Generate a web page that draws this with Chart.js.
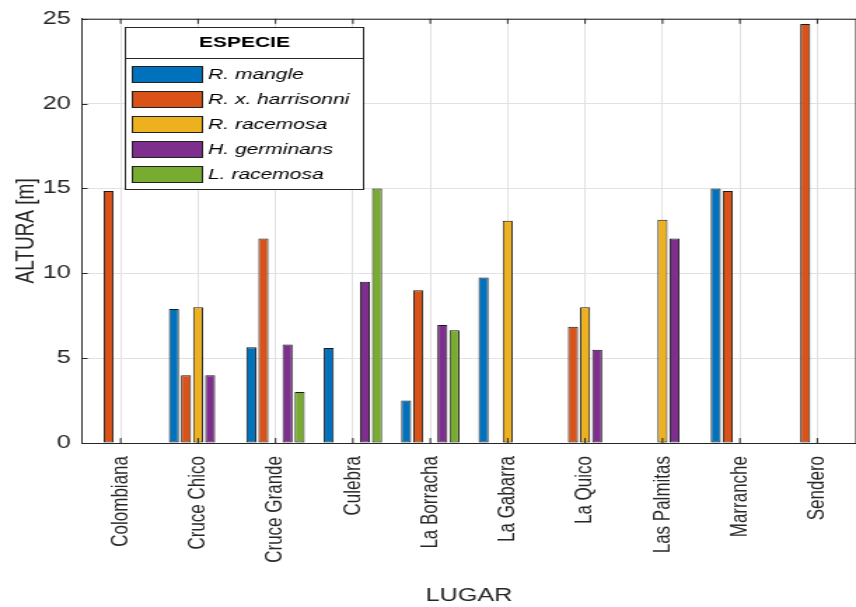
<!DOCTYPE html>
<html lang="es">
<head>
    <meta charset="UTF-8">
    <title>Altura por lugar y especie</title>
    <style>
        html, body { margin: 0; padding: 0; background: #ffffff; overflow: hidden; }
        #wrap { width: 856px; height: 607px; }
    </style>
    <script src="https://cdn.jsdelivr.net/npm/chart.js"></script>
</head>
<body>
<div id="wrap">
    <!-- the original figure is stretched sideways, so the canvas is drawn narrow and widened -->
    <canvas id="barChart" width="611" height="607" style="width:856px;height:607px;display:block"></canvas>
</div>
<script>
    // Data
    const lugares = ['Colombiana', 'Cruce Chico', 'Cruce Grande', 'Culebra', 'La Borracha',
                     'La Gabarra', 'La Quico', 'Las Palmitas', 'Marranche', 'Sendero'];
    const especies = ['R. mangle', 'R. x. harrisonni', 'R. racemosa', 'H. germinans', 'L. racemosa'];
    const rMangle      = [0, 7.9, 5.65, 5.6, 2.5, 9.75, 0, 0, 15.0, 0];
    const rHarrisonni  = [14.85, 4.0, 12.05, 0, 9.0, 0, 6.85, 0, 14.85, 24.7];
    const rRacemosa    = [0, 8.0, 0, 0, 0, 13.1, 8.0, 13.15, 0, 0];
    const hGerminans   = [0, 4.0, 5.8, 9.5, 6.95, 0, 5.5, 12.05, 0, 0];
    const lRacemosa    = [0, 0, 3.0, 15.0, 6.65, 0, 0, 0, 0, 0];
    const yTicks = [0, 5, 10, 15, 20, 25];

    const series = [rMangle, rHarrisonni, rRacemosa, hGerminans, lRacemosa];
    const colores = ['#0072BD', '#D95319', '#EDB120', '#7E2F8E', '#77AC30'];
    const axisColor = '#262626';
    const fontFam = '"Liberation Sans", Arial, sans-serif';

    // Legend drawn inside the plot, MATLAB style
    const legendInside = {
        id: 'legendInside',
        afterDraw(chart) {
            const ctx = chart.ctx;
            const x = 89.5, y = 27, w = 170, h = 162;
            ctx.save();
            ctx.fillStyle = '#ffffff';
            ctx.fillRect(x, y, w, h);
            ctx.strokeStyle = axisColor;
            ctx.lineWidth = 1;
            ctx.strokeRect(x, y + 0.5, w, h);
            ctx.beginPath();
            ctx.moveTo(x, y + 31.5);
            ctx.lineTo(x + w, y + 31.5);
            ctx.stroke();
            ctx.fillStyle = '#000000';
            ctx.font = 'bold 15px ' + fontFam;
            ctx.textAlign = 'center';
            ctx.textBaseline = 'middle';
            ctx.fillText('ESPECIE', x + w / 2, y + 16);
            ctx.font = 'italic 15px ' + fontFam;
            ctx.textAlign = 'left';
            chart.data.datasets.forEach((ds, i) => {
                const cy = y + 47 + i * 25;
                ctx.fillStyle = ds.backgroundColor;
                ctx.fillRect(x + 5, cy - 8, 50, 17);
                ctx.strokeStyle = '#222222';
                ctx.strokeRect(x + 5, cy - 7.5, 50, 16);
                ctx.fillStyle = '#000000';
                ctx.fillText(ds.label, x + 59, cy + 1);
            });
            ctx.restore();
        }
    };

    // Box around the plot area plus inward tick marks
    const plotBox = {
        id: 'plotBox',
        afterDatasetsDraw(chart) {
            const a = chart.chartArea, ctx = chart.ctx;
            const xs = chart.scales.x, ys = chart.scales.y;
            ctx.save();
            ctx.strokeStyle = axisColor;
            ctx.lineWidth = 1;
            ctx.strokeRect(a.left, a.top + 0.5, a.right - a.left, a.bottom - a.top);
            ctx.beginPath();
            lugares.forEach((l, i) => {
                const px = xs.getPixelForValue(i);
                ctx.moveTo(px, a.bottom); ctx.lineTo(px, a.bottom - 5);
                ctx.moveTo(px, a.top); ctx.lineTo(px, a.top + 5);
            });
            yTicks.forEach(v => {
                const py = Math.round(ys.getPixelForValue(v)) + 0.5;
                ctx.moveTo(a.left, py); ctx.lineTo(a.left + 4, py);
            });
            ctx.stroke();
            ctx.restore();
        }
    };

    const ctxBar = document.getElementById('barChart').getContext('2d');
    const barChart = new Chart(ctxBar, {
        type: 'bar',
        data: {
            labels: lugares,
            datasets: especies.map((e, i) => ({
                label: e,
                data: series[i],
                backgroundColor: colores[i],
                borderColor: '#1a1a1a',
                borderWidth: 1,
                borderSkipped: false,
                categoryPercentage: 0.78,
                barPercentage: 0.83
            }))
        },
        options: {
            responsive: false,
            animation: false,
            devicePixelRatio: 1,
            layout: { padding: { left: 0, right: 0, top: 8, bottom: 0 } },
            plugins: {
                legend: { display: false },
                tooltip: { enabled: false }
            },
            scales: {
                x: {
                    grid: { offset: false, color: '#e2e2e2', drawTicks: false },
                    border: { color: axisColor },
                    ticks: {
                        color: axisColor,
                        font: { family: fontFam, size: 17 },
                        maxRotation: 90, minRotation: 90,
                        padding: 13
                    },
                    title: {
                        display: true, text: 'LUGAR', color: axisColor,
                        font: { family: fontFam, size: 18 }, padding: { top: 0, bottom: 0 }
                    },
                    afterFit(scale) {
                        scale.height = 164;
                        scale.paddingLeft = 0;
                        scale.paddingRight = 0;
                    }
                },
                y: {
                    min: 0, max: 25,
                    afterBuildTicks(scale) { scale.ticks = yTicks.map(v => ({ value: v })); },
                    grid: { color: '#e2e2e2', drawTicks: false },
                    border: { color: axisColor },
                    ticks: {
                        color: axisColor,
                        font: { family: fontFam, size: 18 },
                        padding: 8
                    },
                    title: {
                        display: true, text: 'ALTURA [m]', color: axisColor,
                        font: { family: fontFam, size: 19 }, padding: { top: 7, bottom: 2 }
                    },
                    afterFit(scale) { scale.width = 58.5; }
                }
            }
        },
        plugins: [plotBox, legendInside]
    });
</script>
</body>
</html>
